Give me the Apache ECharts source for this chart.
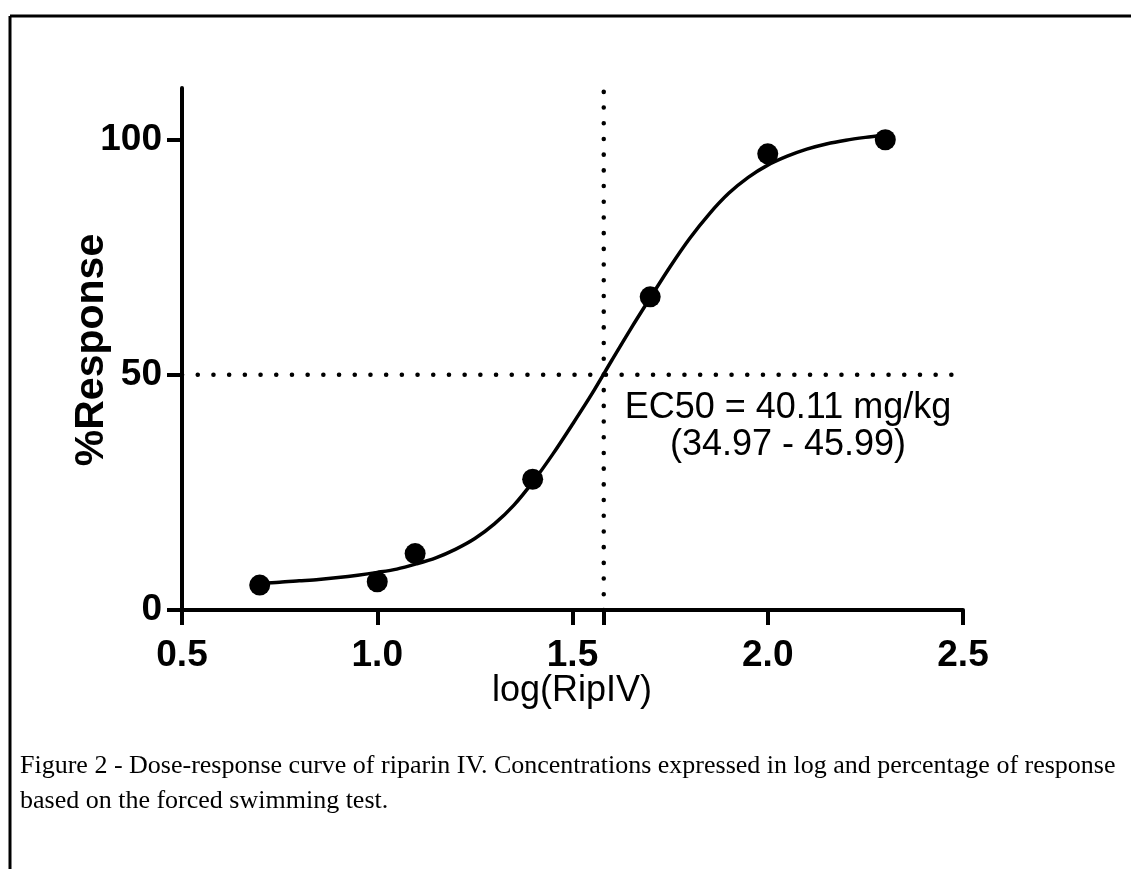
<!DOCTYPE html>
<html>
<head>
<meta charset="utf-8">
<script src="https://cdn.jsdelivr.net/npm/echarts@6/dist/echarts.min.js"></script>
<style>
  html, body { margin: 0; padding: 0; background: #fff; }
  #chart { width: 1131px; height: 869px; }
</style>
</head>
<body>
<div id="chart"></div>
<script>
// measured doses (log) and % response
const doseLog = [0.699, 1.0, 1.097, 1.398, 1.699, 2.0, 2.301];
const response = [5.3, 6.0, 12.0, 27.8, 66.6, 97.0, 100.0];

// fitted curve
const fitX = [0.70, 0.75, 0.80, 0.85, 0.90, 0.95, 1.00, 1.05, 1.10, 1.15, 1.20,
  1.25, 1.30, 1.35, 1.40, 1.45, 1.50, 1.55, 1.60, 1.65, 1.70, 1.75, 1.80,
  1.85, 1.90, 1.95, 2.00, 2.05, 2.10, 2.15, 2.20, 2.25, 2.30];
const fitY = [5.7, 5.9, 6.2, 6.5, 6.9, 7.4, 8.0, 8.7, 9.8, 11.1, 12.9,
  15.2, 18.3, 22.3, 27.4, 33.2, 39.5, 46.0, 53.0, 59.9, 66.5, 73.0, 79.0,
  84.2, 88.6, 92.0, 94.6, 96.5, 98.0, 99.1, 99.9, 100.5, 101.0];

const ec50Log = 1.58;
const halfResponse = 50;
const xTicks = [0.5, 1.0, 1.5, 2.0, 2.5];
const yTicks = [0, 50, 100];
const xMin = 0.5, xMax = 2.5, yMin = 0, yMax = 111;

const chart = echarts.init(document.getElementById("chart"));

const dotted = {
  color: "#000",
  width: 4.5,
  type: [0.1, 15.6],
  cap: "round",
};

chart.setOption({
  animation: false,
  backgroundColor: "#fff",
  grid: { left: 182, right: 168, top: 88, bottom: 259 },
  xAxis: {
    type: "value",
    min: xMin,
    max: xMax,
    axisLine: { onZero: false, lineStyle: { color: "#000", width: 4 } },
    axisTick: {
      customValues: xTicks.concat([ec50Log]),
      length: 15,
      lineStyle: { color: "#000", width: 4 },
    },
    axisLabel: {
      customValues: xTicks,
      formatter: (v) => v.toFixed(1),
      margin: 27,
      color: "#000",
      fontFamily: "Liberation Sans",
      fontWeight: "bold",
      fontSize: 37,
    },
    splitLine: { show: false },
  },
  yAxis: {
    type: "value",
    min: yMin,
    max: yMax,
    axisLine: { show: true, onZero: false, lineStyle: { color: "#000", width: 4 } },
    axisTick: {
      show: true,
      customValues: yTicks,
      length: 15,
      lineStyle: { color: "#000", width: 4 },
    },
    axisLabel: {
      customValues: yTicks,
      margin: 20,
      color: "#000",
      fontFamily: "Liberation Sans",
      fontWeight: "bold",
      fontSize: 37,
    },
    splitLine: { show: false },
  },
  series: [
    {
      type: "line",
      data: [[xMin, halfResponse], [xMax, halfResponse]],
      symbol: "none",
      lineStyle: dotted,
      z: 1,
    },
    {
      type: "line",
      data: [[ec50Log, yMin], [ec50Log, yMax]],
      symbol: "none",
      lineStyle: dotted,
      z: 1,
    },
    {
      type: "line",
      data: fitX.map((x, i) => [x, fitY[i]]),
      symbol: "none",
      smooth: 0.3,
      lineStyle: { color: "#000", width: 3.5 },
      z: 2,
    },
    {
      type: "scatter",
      data: doseLog.map((x, i) => [x, response[i]]),
      symbol: "circle",
      symbolSize: 21,
      itemStyle: { color: "#000", opacity: 1 },
      z: 3,
    },
  ],
  graphic: [
    // figure frame (top and left edges visible)
    { type: "line", shape: { x1: 10, y1: 16, x2: 1131, y2: 16 }, style: { stroke: "#000", lineWidth: 3 } },
    { type: "line", shape: { x1: 10, y1: 16, x2: 10, y2: 869 }, style: { stroke: "#000", lineWidth: 3 } },
    {
      type: "text",
      x: 92,
      y: 350,
      rotation: Math.PI / 2,
      style: {
        text: "%Response",
        fill: "#000",
        font: "bold 41px 'Liberation Sans'",
        align: "center",
        verticalAlign: "middle",
      },
    },
    {
      type: "text",
      x: 572,
      y: 691,
      style: {
        text: "log(RipIV)",
        fill: "#000",
        font: "36px 'Liberation Sans'",
        align: "center",
        verticalAlign: "middle",
      },
    },
    {
      type: "text",
      x: 788,
      y: 427,
      style: {
        text: "EC50 = 40.11 mg/kg\n(34.97 - 45.99)",
        fill: "#000",
        font: "36px 'Liberation Sans'",
        lineHeight: 37,
        align: "center",
        verticalAlign: "middle",
      },
    },
    {
      type: "text",
      x: 20,
      y: 766,
      style: {
        text: "Figure 2 - Dose-response curve of riparin IV. Concentrations expressed in log and percentage of response",
        fill: "#000",
        font: "26px 'Liberation Serif'",
        verticalAlign: "middle",
      },
    },
    {
      type: "text",
      x: 20,
      y: 801,
      style: {
        text: "based on the forced swimming test.",
        fill: "#000",
        font: "26px 'Liberation Serif'",
        verticalAlign: "middle",
      },
    },
  ],
});
</script>
</body>
</html>
